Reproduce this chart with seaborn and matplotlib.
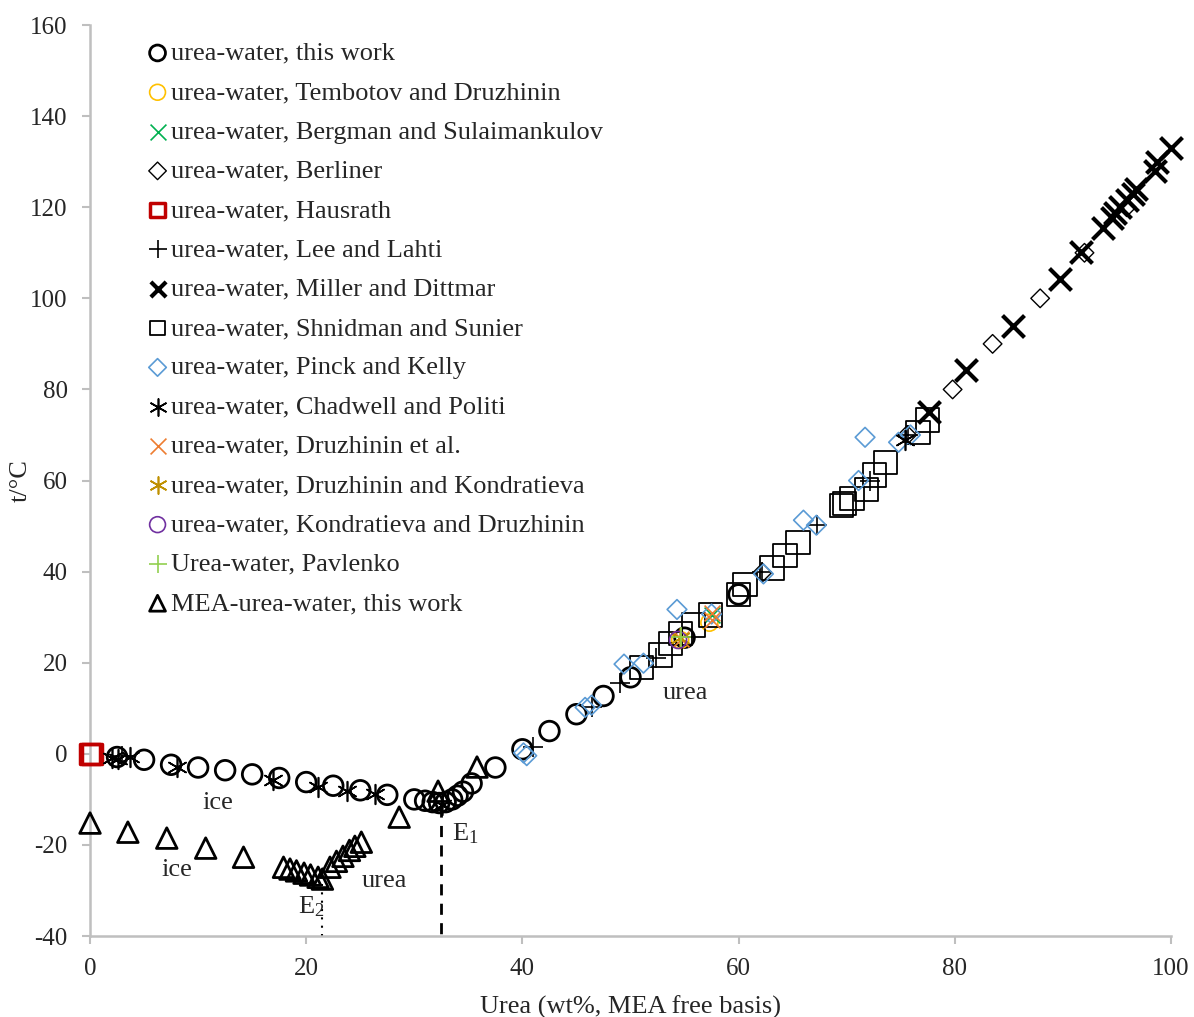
import matplotlib
matplotlib.use("Agg")
import matplotlib.pyplot as plt
import seaborn as sns

# urea-water, this work
tw_x = [2.5, 5, 7.5, 10, 12.5, 15, 17.5, 20, 22.5, 25, 27.5, 30, 31, 31.7, 32.3, 32.9,
        33.5, 34, 34.5, 35.3, 37.5, 40, 42.5, 45, 47.5, 50, 55, 60]
tw_y = [-0.7, -1.3, -2.4, -3, -3.6, -4.5, -5.3, -6.2, -7, -8, -9, -10, -10.3, -10.6, -10.8,
        -10.6, -10, -9.2, -8.3, -6.5, -3, 1, 5, 8.7, 12.7, 16.8, 25.5, 35]

tem_x = [54.6, 57.3]
tem_y = [25, 28.8]
berg_x = [57.5]
berg_y = [30.5]
berl_x = [62.2, 75.6, 79.8, 83.5, 87.9, 92, 95.9]
berl_y = [39.8, 70, 80, 90, 100, 110, 120]
haus_x = [0, 0.2]
haus_y = [0, 0]
lee_x = [3, 41, 46.4, 49, 52.4, 62.2, 67.3, 72.2, 75.7]
lee_y = [-0.5, 1.5, 10.2, 15.5, 21, 39.9, 50.2, 60, 69.9]
mil_x = [77.6, 81, 85.4, 89.7, 91.7, 93.7, 94.5, 94.8, 95.3, 95.9, 96.5, 96.8, 98.5, 98.7, 100]
mil_y = [75, 84.2, 94, 104.2, 110.2, 115.5, 117.6, 118.7, 120, 121.5, 123, 124, 128, 130, 133]
shn_x = [51, 52.8, 53.7, 54.6, 55.8, 57.4, 60, 60.6, 63.1, 64.3, 65.5, 69.5, 69.8, 70.5,
         71.8, 72.6, 73.6, 76.6, 77.5]
shn_y = [19, 21.7, 24.3, 26.5, 28.3, 30.5, 35, 37.1, 40.8, 43.6, 46.4, 54.5, 55, 56.1,
         58, 61.2, 64, 70.6, 73.3]
pk_x = [40.1, 40.4, 45.8, 46.4, 49.4, 51.2, 54.3, 57.5, 62.3, 66, 67.2, 71.1, 71.7, 74.8, 75.9]
pk_y = [0.2, -0.4, 10.2, 10.7, 19.7, 19.9, 31.7, 30.7, 39.5, 51.3, 50.2, 60, 69.5, 68.4, 70]
cha_x = [2, 2.6, 3.7, 8, 16.9, 21.1, 23.8, 26.4, 32.6, 75.4]
cha_y = [-0.9, -1.1, -0.7, -2.9, -5.8, -7.3, -8.1, -8.8, -11.3, 68.8]
dru_x = [54.7, 57.5, 57.5]
dru_y = [25.3, 29.3, 31]
dk_x = [54.6]
dk_y = [25.4]
kd_x = [54.4]
kd_y = [25]
pav_x = [54.7]
pav_y = [25.6]
mea_x = [0, 3.5, 7.1, 10.7, 14.2, 17.9, 18.5, 19.1, 19.8, 20.4, 21.1, 21.5, 22.2, 22.8,
         23.4, 24, 24.5, 25.1, 28.6, 32.2, 35.8]
mea_y = [-15.2, -17.2, -18.5, -20.7, -22.7, -24.9, -25.3, -25.7, -26.2, -26.6, -27.1, -27.5,
         -24.9, -23.6, -22.5, -21.2, -20.3, -19.4, -13.9, -8.2, -2.9]

labels = ["urea-water, this work", "urea-water, Tembotov and Druzhinin",
          "urea-water, Bergman and Sulaimankulov", "urea-water, Berliner",
          "urea-water, Hausrath", "urea-water, Lee and Lahti", "urea-water, Miller and Dittmar",
          "urea-water, Shnidman and Sunier", "urea-water, Pinck and Kelly",
          "urea-water, Chadwell and Politi", "urea-water, Druzhinin et al.",
          "urea-water, Druzhinin and Kondratieva", "urea-water, Kondratieva and Druzhinin",
          "Urea-water, Pavlenko", "MEA-urea-water, this work"]
xs = [tw_x, tem_x, berg_x, berl_x, haus_x, lee_x, mil_x, shn_x, pk_x, cha_x, dru_x, dk_x, kd_x, pav_x, mea_x]
ys = [tw_y, tem_y, berg_y, berl_y, haus_y, lee_y, mil_y, shn_y, pk_y, cha_y, dru_y, dk_y, kd_y, pav_y, mea_y]

# (marker, colour, size, linewidth, hollow)
styles = [("o", "black", 200, 2.0, True),
          ("o", "#FFC000", 150, 1.2, True),
          ("x", "#00B050", 130, 1.2, False),
          ("D", "black", 90, 1.0, True),
          ("s", "#C00000", 200, 2.5, True),
          ("+", "black", 200, 1.2, False),
          ("x", "black", 250, 3.0, False),
          ("s", "black", 280, 1.3, True),
          ("D", "#5B9BD5", 100, 1.2, True),
          ((6, 2, 0), "black", 200, 1.2, False),
          ("x", "#ED7D31", 130, 1.2, False),
          ((6, 2, 0), "#BF9000", 200, 1.2, False),
          ("o", "#7030A0", 150, 1.2, True),
          ("+", "#92D050", 200, 1.2, False),
          ("^", "black", 220, 2.0, True)]
legend_sizes = [130, 130, 130, 80, 110, 150, 120, 110, 80, 150, 130, 150, 130, 150, 130]

sns.set_style("white")
plt.rcParams["font.family"] = ["Liberation Serif", "DejaVu Serif"]
plt.rcParams["mathtext.fontset"] = "stix"
plt.rcParams["axes.unicode_minus"] = False

fig, ax = plt.subplots(figsize=(11.94, 10.17), dpi=100)
fig.subplots_adjust(left=0.0754, right=0.9807, top=0.9754, bottom=0.0796)

# eutectic lines
ax.plot([32.5, 32.5], [-11.5, -40], color="black", ls=(0, (4, 3)), lw=2)
ax.plot([21.5, 21.5], [-28.5, -40], color="black", ls=(0, (1, 3)), lw=1.5)

for lab, x, y, (m, c, s, lw, hollow) in zip(labels, xs, ys, styles):
    if hollow:
        sns.scatterplot(x=x, y=y, ax=ax, marker=m, s=s, facecolors="none",
                        edgecolor=c, linewidth=lw, label=lab, zorder=3, clip_on=False)
    else:
        sns.scatterplot(x=x, y=y, ax=ax, marker=m, s=s, color=c,
                        linewidth=lw, label=lab, zorder=3, clip_on=False)

ax.set_xlim(0, 100)
ax.set_ylim(-40, 160)
ax.set_xticks(range(0, 101, 20))
ax.set_yticks(range(-40, 161, 20))
ax.set_xlabel("Urea (wt%, MEA free basis)", fontsize=19, labelpad=11)
ax.set_ylabel("t/°C", fontsize=19)
ax.yaxis.set_label_coords(-0.054, 0.5)
ax.tick_params(labelsize=18, length=6, color="#bfbfbf", direction="out", pad=10, width=1.5)
ax.tick_params(axis="x", bottom=True)
ax.tick_params(axis="y", left=True)
for sp in ["top", "right"]:
    ax.spines[sp].set_visible(False)
for sp in ["left", "bottom"]:
    ax.spines[sp].set_color("#bfbfbf")
    ax.spines[sp].set_linewidth(1.8)

ax.text(11.8, -10.8, "ice", fontsize=19, ha="center", va="center")
ax.text(8, -25.5, "ice", fontsize=19, ha="center", va="center")
ax.text(27.2, -28, "urea", fontsize=19, ha="center", va="center")
ax.text(55.1, 13.3, "urea", fontsize=19, ha="center", va="center")
ax.text(33.5, -17.5, r"E$_\mathregular{1}$", fontsize=19, ha="left", va="center")
ax.text(19.2, -33.5, r"E$_\mathregular{2}$", fontsize=19, ha="left", va="center")

leg = ax.legend(loc="upper left", bbox_to_anchor=(0.0527, 0.982), frameon=False, fontsize=19,
                handletextpad=0.1, labelspacing=0.60, borderaxespad=0,
                borderpad=0, handlelength=0.8)
for h, sz in zip(leg.legend_handles, legend_sizes):
    h.set_sizes([sz])

fig.savefig("out.png", dpi=100)
